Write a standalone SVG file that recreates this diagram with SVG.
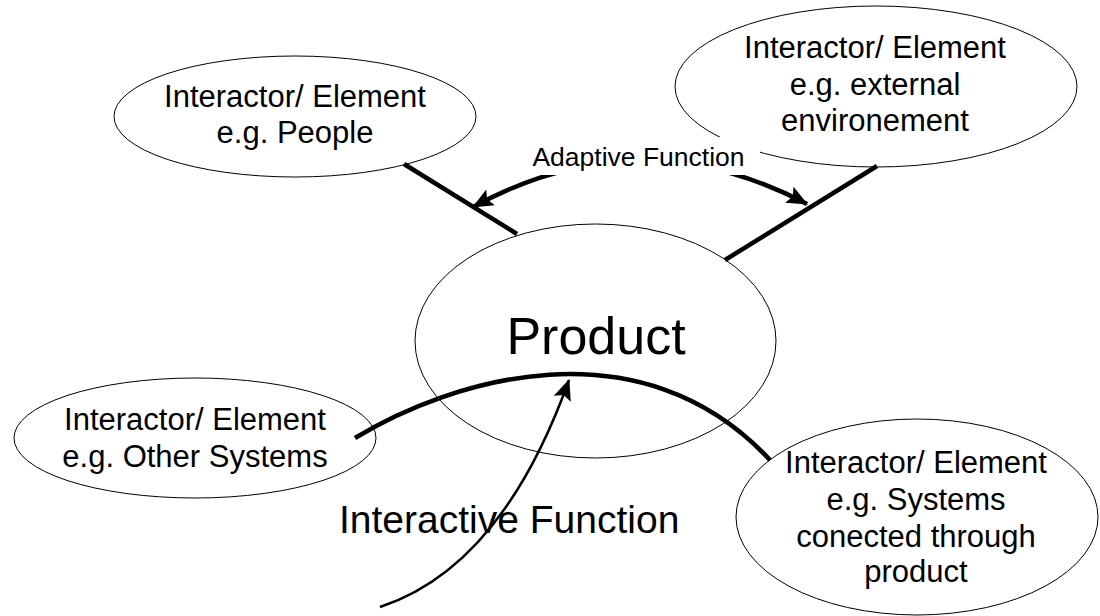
<svg xmlns="http://www.w3.org/2000/svg" width="1100" height="616" viewBox="0 0 1100 616">
<defs>
<style>
.node{fill:#fff;stroke:#000;stroke-width:1}
.t{font-family:"Liberation Sans",Arial,sans-serif;font-size:31px;fill:#000;text-anchor:middle}
.thick{fill:none;stroke:#000;stroke-width:4.5}
</style>
<marker id="ah" markerUnits="userSpaceOnUse" markerWidth="22" markerHeight="18" refX="20" refY="9" orient="auto-start-reverse" viewBox="0 0 22 18">
<path d="M0,0 L21,9 L0,18 L4,9 z" fill="#000"/>
</marker>
</defs>
<rect width="1100" height="616" fill="#fff"/>
<g id="node-people">
<ellipse class="node" cx="295" cy="116.5" rx="181" ry="60.5"/>
<text class="t" x="295" y="107">Interactor/ Element</text>
<text class="t" x="295" y="143">e.g. People</text>
</g>
<g id="node-environment">
<ellipse class="node" cx="876" cy="86.5" rx="201" ry="80.5"/>
<text class="t" x="875" y="58">Interactor/ Element</text>
<text class="t" x="875" y="94.5">e.g. external</text>
<text class="t" x="875" y="131">environement</text>
</g>
<g id="node-other-systems">
<ellipse class="node" cx="195" cy="438" rx="181" ry="60"/>
<text class="t" x="195" y="430">Interactor/ Element</text>
<text class="t" x="195" y="467">e.g. Other Systems</text>
</g>
<g id="node-product">
<ellipse class="node" cx="595.5" cy="341" rx="180.5" ry="117"/>
<text class="t" x="596" y="354" style="font-size:52px">Product</text>
</g>
<g id="node-connected-systems">
<ellipse class="node" cx="917" cy="517" rx="181" ry="98"/>
<text class="t" x="916" y="473">Interactor/ Element</text>
<text class="t" x="916" y="510">e.g. Systems</text>
<text class="t" x="916" y="546.5">conected through</text>
<text class="t" x="916" y="582">product</text>
</g>
<g id="connectors">
<line class="thick" x1="404" y1="164" x2="517" y2="234"/>
<line class="thick" x1="725" y1="260" x2="877" y2="166"/>
<path d="M473,207 Q 640,116 807,204" fill="none" stroke="#000" stroke-width="4.5" marker-start="url(#ah)" marker-end="url(#ah)"/>
<rect x="530" y="137" width="230" height="38" fill="#fff"/>
<text class="t" x="638.5" y="165.5" style="font-size:26.5px">Adaptive Function</text>
<path class="thick" d="M355,438 C 450,380 640,320 770,460"/>
<path d="M380,607 Q 502,567 569,380" fill="none" stroke="#000" stroke-width="2.5" marker-end="url(#ah)"/>
<text class="t" x="339" y="533" style="font-size:39px;text-anchor:start">Interactive Function</text>
</g>
</svg>
